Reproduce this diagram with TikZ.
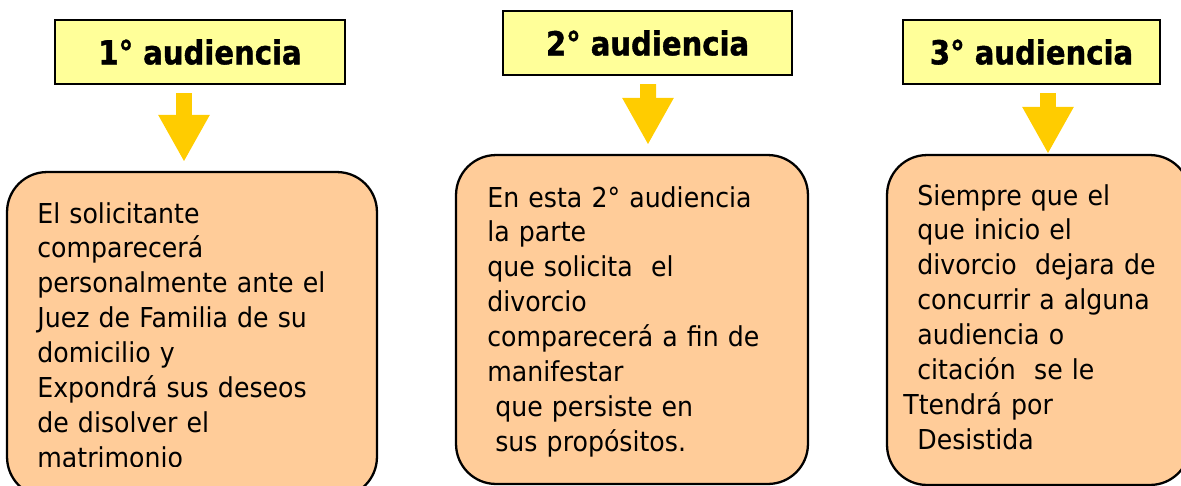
\documentclass[tikz,border=0pt]{standalone}
\usepackage{fontspec}
\setmainfont[FakeStretch=0.92,BoldFeatures={FakeStretch=0.88,FakeBold=1.2}]{DejaVu Sans}
\usetikzlibrary{arrows.meta,calc}
\definecolor{headyellow}{HTML}{FFFF99}
\definecolor{boxpeach}{HTML}{FFCC99}
\definecolor{arrowgold}{HTML}{FFCC00}
\tikzset{
  header/.style={draw,line width=1.3pt,fill=headyellow,minimum height=1.28cm,inner sep=0pt,
    font=\fontsize{18.8pt}{22pt}\selectfont\bfseries},
  stepbox/.style={draw,line width=1.3pt,fill=boxpeach,rounded corners=0.8cm,inner sep=0pt},
  steptext/.style={anchor=base west,inner sep=0pt,text width=7cm,align=left,
    font=\fontsize{15.6pt}{19.9pt}\selectfont},
  bigarrow/.style={draw=arrowgold,line width=0.32cm,-{Triangle[width=0.96cm,length=0.94cm]}}
}
\begin{document}
\begin{tikzpicture}[x=0.02cm,y=-0.02cm]
 \useasboundingbox (0,0) rectangle (1181,485);
 \clip (0,0) rectangle (1181,485);
 % headers
 \node[header,minimum width=5.8cm] (h1) at (200,52) {1° audiencia};
 \node[header,minimum width=5.78cm] (h2) at (647.5,43) {2° audiencia};
 \node[header,minimum width=5.14cm] (h3) at (1031.5,52) {3° audiencia};
 % boxes
 \node[stepbox,minimum width=7.4cm,minimum height=6.5cm] (b1) at (192,334.5) {};
 \node[stepbox,minimum width=7.04cm,minimum height=6.58cm] (b2) at (632,319.5) {};
 \node[stepbox,minimum width=6.06cm,minimum height=6.6cm] (b3) at (1038.5,320) {};
 \begin{scope}
  \clip (0,0) rectangle (400,466);
  \node[steptext] (t1) at (37,223) {El solicitante\\ comparecerá\\ personalmente ante el\\
   Juez de Familia de su\\ domicilio y\\ Expondrá sus deseos\\ de disolver el\\ matrimonio};
 \end{scope}
 \node[steptext] (t2) at (487,207) {En esta 2° audiencia\\ la parte\\ que solicita~ el\\ divorcio\\
  comparecerá a fin de\\ manifestar\\ \hspace*{0.16cm}que persiste en\\ \hspace*{0.16cm}sus propósitos.};
 \node[steptext] (t3) at (917,205) {Siempre que el\\ que inicio el\\ divorcio~ dejara de\\
  concurrir a alguna\\ audiencia o\\ citación~ se le\\ \hspace*{-0.28cm}Ttendrá por\\ Desistida};
 % arrows
 \draw[bigarrow] ($(h1.south)+(-16,8)$) -- ($(b1.north)+(-8,-9)$);
 \draw[bigarrow] ($(h2.south)+(0.5,8)$) -- ($(b2.north)+(16,-9)$);
 \draw[bigarrow] ($(h3.south)+(16.5,8)$) -- ($(b3.north)+(9.5,0)$);
\end{tikzpicture}
\end{document}
